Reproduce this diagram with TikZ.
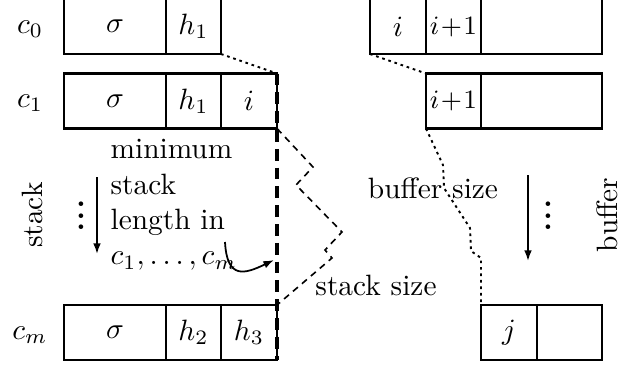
\documentclass[tikz,border=0pt]{standalone}
\usetikzlibrary{arrows.meta}
\begin{document}
\begin{tikzpicture}[x=0.3401pt,y=-0.3401pt,
  cell/.style={draw, line width=0.7pt, inner sep=0pt, outer sep=0pt,
    minimum height=55*0.3401pt, minimum width=#1*0.3401pt},
  arr/.style={line width=0.6pt, -{Latex[length=3.6pt,width=2.6pt]}},
  thickdash/.style={line width=1.3pt, dash pattern=on 4pt off 2.4pt},
  zig/.style={line width=0.55pt, dash pattern=on 2.2pt off 1.8pt},
  dots/.style={line width=0.65pt, dash pattern=on 0.9pt off 1.3pt},
  lab/.style={inner sep=0pt},
  vd/.style={inner sep=0pt, font=\bfseries}
]
\useasboundingbox (0,0) rectangle (634,368);
% stack configurations
\node[cell=102] (a0) at (115,26.5) {$\sigma$};
\node[cell=55] (a0h) at (193.5,26.5) {$h_1$};
\node[cell=102] (a1) at (115,101) {$\sigma$};
\node[cell=55] (a1h) at (193.5,101) {$h_1$};
\node[cell=56] (a1i) at (249,101) {$i$};
\node[cell=102] (am) at (115,332.5) {$\sigma$};
\node[cell=55] (amh2) at (193.5,332.5) {$h_2$};
\node[cell=56] (amh3) at (249,332.5) {$h_3$};
% buffers
\node[cell=56] (b0i) at (398,26.5) {$i$};
\node[cell=55,font=\small] (b0n) at (453.5,26.5) {$i\!+\!1$};
\node[cell=121] (b0e) at (541.5,26.5) {};
\node[cell=55,font=\small] (b1n) at (453.5,101) {$i\!+\!1$};
\node[cell=121] (b1e) at (541.5,101) {};
\node[cell=56] (bmj) at (509,332.5) {$j$};
\node[cell=65] (bme) at (569.5,332.5) {};
% labels
\node[lab, anchor=base] (l0) at (30,33) {$c_0$};
\node[lab, anchor=base] (l1) at (30,107) {$c_1$};
\node[lab, anchor=base] (lm) at (30,339) {$c_m$};
\node[lab, rotate=90, anchor=base] (st) at (42,215) {stack};
\node[lab, rotate=90, anchor=base] (bu) at (617,215) {buffer};
\node[vd] (sv) at (81,207) {$\vdots$};
\node[vd] (bv) at (548,207) {$\vdots$};
\node[lab, align=left, anchor=north west] (txt) at (110,139)
  {minimum\\stack\\length in\\$c_1,\ldots,c_m$};
\node[lab, anchor=base] (bs) at (433,198) {buffer size};
\node[lab, anchor=base] (ss) at (376,295) {stack size};
% arrows
\coordinate (sa1) at (97,177);
\coordinate (sa2) at (97,254);
\coordinate (ba1) at (528,175);
\coordinate (ba2) at (528,261);
\coordinate (inEnd) at (225,242);
\coordinate (inTip) at (274,260);
\draw[arr] (sa1) -- (sa2);
\draw[arr] (ba1) -- (ba2);
\draw[arr] (inEnd) .. controls (227,280) and (245,274) .. (inTip);
% connectors
\draw[dots] (a0h.south east) -- (a1i.north east);
\draw[dots] (b0i.south west) -- (b1n.north west);
\draw[thickdash] (a1i.north east) -- (amh3.south east);
\draw[zig] (a1i.south east) -- (313,167) -- (296,185) -- (342,232) -- (325,250) -- (332,258) -- (amh3.north east);
\draw[dots] (b1n.south west) -- (443,165) -- (444,188) -- (470,228) -- (471,251) -- (481,258) -- (bmj.north west);
\end{tikzpicture}
\end{document}
